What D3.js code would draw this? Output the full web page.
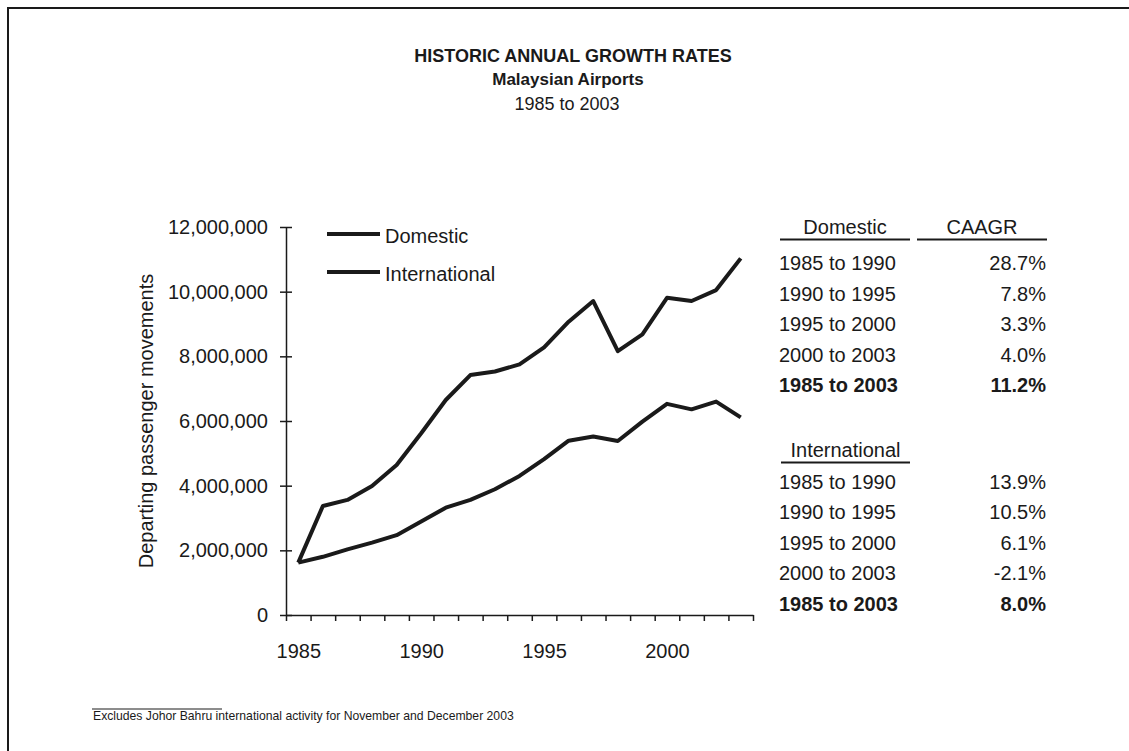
<!DOCTYPE html>
<html>
<head>
<meta charset="utf-8">
<script src="https://cdn.jsdelivr.net/npm/d3@7"></script>
<style>
  body { margin: 0; background: #fff; }
  svg { font-family: "Liberation Sans", Arial, Helvetica, sans-serif; }
  .axis path, .axis line { stroke: #1a1a1a; stroke-width: 1.5; }
  .axis text { fill: #1a1a1a; }
</style>
</head>
<body>
<script>
// Chart data
let years = [1985, 1986, 1987, 1988, 1989, 1990, 1991, 1992, 1993, 1994,
  1995, 1996, 1997, 1998, 1999, 2000, 2001, 2002, 2003];
let domestic = [1620000, 3370000, 3560000, 3990000, 4640000, 5620000, 6650000,
  7420000, 7530000, 7750000, 8280000, 9070000, 9710000, 8160000, 8680000,
  9810000, 9710000, 10050000, 11030000];
let international = [1620000, 1800000, 2030000, 2240000, 2470000, 2890000,
  3320000, 3560000, 3890000, 4300000, 4820000, 5390000, 5520000, 5380000,
  5980000, 6530000, 6360000, 6600000, 6110000];
let yTicks = [0, 2000000, 4000000, 6000000, 8000000, 10000000, 12000000];
let xLabelYears = [1985, 1990, 1995, 2000];
let seriesNames = ['Domestic', 'International'];

// Growth rate table
let periods = ['1985 to 1990', '1990 to 1995', '1995 to 2000', '2000 to 2003', '1985 to 2003'];
let domesticRates = ['28.7%', '7.8%', '3.3%', '4.0%', '11.2%'];
let internationalRates = ['13.9%', '10.5%', '6.1%', '-2.1%', '8.0%'];

let svgWidth = 1129;
let svgHeight = 751;
let ink = '#1a1a1a';

let svg = d3.select('body')
  .append('svg')
  .attr('width', svgWidth)
  .attr('height', svgHeight);

// page frame (top and left edges of the scanned box)
svg.append('line')
  .attr('x1', 7).attr('x2', svgWidth).attr('y1', 8).attr('y2', 8)
  .attr('stroke', ink).attr('stroke-width', 2);
svg.append('line')
  .attr('x1', 8).attr('x2', 8).attr('y1', 8).attr('y2', svgHeight)
  .attr('stroke', ink).attr('stroke-width', 2);

// titles
let titles = svg.append('g').attr('text-anchor', 'middle').attr('fill', ink);
titles.append('text').attr('x', 573).attr('y', 62)
  .style('font-size', '18px').style('font-weight', 'bold')
  .text('HISTORIC ANNUAL GROWTH RATES');
titles.append('text').attr('x', 568).attr('y', 85)
  .style('font-size', '17px').style('font-weight', 'bold')
  .text('Malaysian Airports');
titles.append('text').attr('x', 567).attr('y', 110)
  .style('font-size', '18px')
  .text('1985 to 2003');

// scales: one band per year, boundaries at half years
let xScale = d3.scaleLinear()
  .domain([1984.5, 2003.5])
  .range([286, 753]);
let yScale = d3.scaleLinear()
  .domain([0, 12000000])
  .range([615, 227]);

// y axis with ticks crossing the line
let yAxis = d3.axisLeft(yScale)
  .tickValues(yTicks)
  .tickFormat(d3.format(','))
  .tickSizeInner(6)
  .tickSizeOuter(0)
  .tickPadding(12);
let yAxisG = svg.append('g')
  .classed('axis', true)
  .attr('transform', `translate(${xScale.range()[0]},0)`)
  .style('font-size', '20px')
  .call(yAxis);
yAxisG.selectAll('.tick line').attr('x1', 6);

// x axis: tick marks on year boundaries
let boundaries = years.map(d => d - 0.5).concat([years[years.length - 1] + 0.5]);
svg.append('g')
  .classed('axis', true)
  .attr('transform', `translate(0,${yScale(0)})`)
  .call(d3.axisBottom(xScale)
    .tickValues(boundaries)
    .tickFormat('')
    .tickSizeInner(6)
    .tickSizeOuter(0));

// x labels at the year centres
let xLabels = svg.append('g')
  .classed('axis', true)
  .attr('transform', `translate(0,${yScale(0)})`)
  .style('font-size', '20px')
  .call(d3.axisBottom(xScale)
    .tickValues(xLabelYears)
    .tickFormat(d3.format('d'))
    .tickSize(0)
    .tickPadding(29));
xLabels.select('.domain').remove();

// y axis title
svg.append('text')
  .attr('transform', 'translate(153,421) rotate(-90)')
  .attr('text-anchor', 'middle')
  .attr('fill', ink)
  .style('font-size', '20px')
  .text('Departing passenger movements');

// lines
let createLine = d3.line()
  .x((d, i) => xScale(years[i]))
  .y(d => yScale(d));

[domestic, international].forEach(series => {
  svg.append('path')
    .attr('d', createLine(series))
    .attr('fill', 'none')
    .attr('stroke', ink)
    .attr('stroke-width', 4)
    .attr('stroke-linejoin', 'round');
});

// legend
let legend = svg.append('g').attr('transform', 'translate(327,234)');
seriesNames.forEach((name, i) => {
  legend.append('line')
    .attr('x1', 0).attr('x2', 53)
    .attr('y1', i * 38).attr('y2', i * 38)
    .attr('stroke', ink).attr('stroke-width', 4);
  legend.append('text')
    .attr('x', 58).attr('y', i * 38 + 9)
    .attr('fill', ink)
    .style('font-size', '20px')
    .text(name);
});

// CAAGR table
let table = svg.append('g').attr('fill', ink).style('font-size', '20px');
let leftX = 779;
let rightX = 1046;
let rowGap = 30.6;

function headerCell(text, x1, x2, y) {
  table.append('text')
    .attr('x', (x1 + x2) / 2).attr('y', y)
    .attr('text-anchor', 'middle')
    .text(text);
  table.append('line')
    .attr('x1', x1).attr('x2', x2)
    .attr('y1', y + 6).attr('y2', y + 6)
    .attr('stroke', ink).attr('stroke-width', 2);
}

function rows(rates, top) {
  periods.forEach((p, i) => {
    let bold = i === periods.length - 1 ? 'bold' : 'normal';
    table.append('text')
      .attr('x', leftX).attr('y', top + i * rowGap)
      .style('font-weight', bold)
      .text(p);
    table.append('text')
      .attr('x', rightX).attr('y', top + i * rowGap)
      .attr('text-anchor', 'end')
      .style('font-weight', bold)
      .text(rates[i]);
  });
}

headerCell('Domestic', 780, 910, 233.5);
headerCell('CAAGR', 917, 1047, 233.5);
rows(domesticRates, 270);
headerCell('International', 781, 910, 456.5);
rows(internationalRates, 488.5);

// footnote
svg.append('line')
  .attr('x1', 92).attr('x2', 222).attr('y1', 709).attr('y2', 709)
  .attr('stroke', ink).attr('stroke-width', 1);
svg.append('text')
  .attr('x', 93).attr('y', 720)
  .attr('fill', ink)
  .style('font-size', '12.2px')
  .text('Excludes Johor Bahru international activity for November and December 2003');
</script>
</body>
</html>
